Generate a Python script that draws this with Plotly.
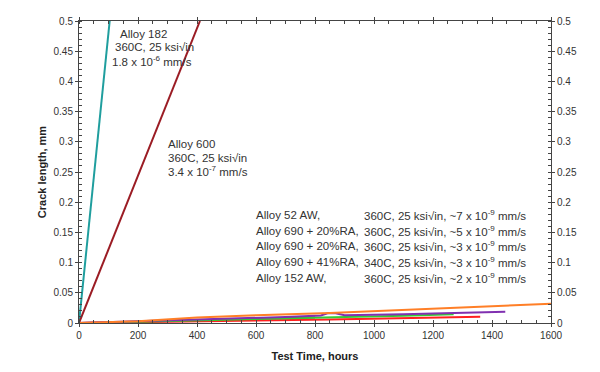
import plotly.graph_objects as go

# ---- data ----
hours_182 = [0, 104]
crack_182 = [0.0, 0.5]

hours_600 = [0, 410]
crack_600 = [0.0, 0.5]

hours_orange = [0, 100, 200, 400, 600, 850, 1100, 1350, 1600]
crack_orange = [0.0, 0.001, 0.003, 0.009, 0.013, 0.0165, 0.022, 0.027, 0.032]

hours_purple = [0, 300, 500, 700, 820, 845, 870, 900, 1100, 1300, 1445]
crack_purple = [0.0, 0.004, 0.007, 0.010, 0.0125, 0.0165, 0.016, 0.013, 0.0145, 0.0165, 0.0185]

hours_green = [100, 300, 500, 700, 900, 1100, 1270]
crack_green = [0.001, 0.003, 0.005, 0.007, 0.009, 0.012, 0.0145]

hours_red = [0, 200, 400, 600, 850, 1100, 1360]
crack_red = [0.0, 0.001, 0.003, 0.004, 0.0057, 0.008, 0.0105]

hours_crimson = [0, 200, 400, 600, 800]
crack_crimson = [0.0, 0.002, 0.005, 0.007, 0.009]

x_ticks = [0, 200, 400, 600, 800, 1000, 1200, 1400, 1600]
y_ticks = [0, 0.05, 0.1, 0.15, 0.2, 0.25, 0.3, 0.35, 0.4, 0.45, 0.5]

block_names = ["Alloy 52 AW,", "Alloy 690 + 20%RA,", "Alloy 690 + 20%RA,",
               "Alloy 690 + 41%RA,", "Alloy 152 AW,"]
block_conds = ["360C, 25 ksi\u221ain, ~7 x 10<sup>-9</sup> mm/s",
               "360C, 25 ksi\u221ain, ~5 x 10<sup>-9</sup> mm/s",
               "360C, 25 ksi\u221ain, ~3 x 10<sup>-9</sup> mm/s",
               "340C, 25 ksi\u221ain, ~3 x 10<sup>-9</sup> mm/s",
               "360C, 25 ksi\u221ain, ~2 x 10<sup>-9</sup> mm/s"]

FONT = "Liberation Sans, Arial, sans-serif"
AX = "#444444"
TXT = "#333333"

fig = go.Figure()
series = [
    (hours_182, crack_182, "#1f9e9e", "Alloy 182"),
    (hours_600, crack_600, "#9b1c24", "Alloy 600"),
    (hours_crimson, crack_crimson, "#a0144a", "crimson"),
    (hours_red, crack_red, "#ff2020", "red"),
    (hours_green, crack_green, "#33cc33", "green"),
    (hours_purple, crack_purple, "#8030b0", "purple"),
    (hours_orange, crack_orange, "#ff7f27", "orange"),
]
for hx, cy, col, nm in series:
    fig.add_trace(go.Scatter(x=hx, y=cy, mode="lines", name=nm,
                             line=dict(color=col, width=2), showlegend=False))

common_x = dict(range=[0, 1600], tickvals=x_ticks, showgrid=False, zeroline=False)
common_y = dict(range=[0, 0.5], tickvals=y_ticks, showgrid=False, zeroline=False)

# helper traces so overlay axes (inside halves of crossing ticks) are drawn
for ya in ["y2", "y3", "y4"]:
    fig.add_trace(go.Scatter(x=[0], y=[0], xaxis="x2", yaxis=ya, mode="markers",
                             marker=dict(opacity=0), showlegend=False, hoverinfo="skip"))

fig.update_layout(
    width=600, height=372,
    margin=dict(l=70.5, r=56.5, t=7, b=56.5),
    paper_bgcolor="white", plot_bgcolor="white",
    font=dict(family=FONT, size=10, color=TXT),
    xaxis=dict(**common_x, showline=True, linecolor=AX, linewidth=1, mirror="allticks",
               ticks="outside", ticklen=3, tickcolor=AX,
               minor=dict(dtick=50, ticks="inside", ticklen=3, tickcolor=AX),
               tickfont=dict(size=10, color=TXT),
               title=dict(text="<b>Test Time, hours</b>", font=dict(size=11, color="#222"),
                          standoff=12)),
    xaxis2=dict(**common_x, overlaying="x", anchor="y", showline=False, mirror="allticks",
                ticks="inside", ticklen=3, tickcolor=AX, showticklabels=False),
    yaxis=dict(**common_y, showline=True, linecolor=AX, linewidth=1,
               ticks="outside", ticklen=3, tickcolor=AX,
               minor=dict(dtick=0.01, ticks="inside", ticklen=3, tickcolor=AX),
               tickfont=dict(size=10, color=TXT),
               title=dict(text="<b>Crack length, mm</b>", font=dict(size=11, color="#222"),
                          standoff=4)),
    yaxis2=dict(**common_y, overlaying="y", side="left", anchor="x", showline=False,
                ticks="inside", ticklen=3, tickcolor=AX, showticklabels=False),
    yaxis3=dict(**common_y, overlaying="y", side="right", anchor="x", showline=True,
                linecolor=AX, linewidth=1,
                ticks="outside", ticklen=3, tickcolor=AX,
                minor=dict(dtick=0.01, ticks="inside", ticklen=3, tickcolor=AX),
                tickfont=dict(size=10, color=TXT)),
    yaxis4=dict(**common_y, overlaying="y", side="right", anchor="x",
                showline=False, ticks="inside", ticklen=3, tickcolor=AX,
                showticklabels=False),
)

def note(x, y, text, anchor="left"):
    fig.add_annotation(x=x, y=y, xref="x", yref="y", text=text, showarrow=False,
                       xanchor=anchor, yanchor="middle",
                       font=dict(family=FONT, size=11.5, color=TXT))

# Alloy 182 label
note(133, 0.479, "Alloy 182")
note(115, 0.457, "360C, 25 ksi\u221ain")
note(105, 0.434, "1.8 x 10<sup>-6</sup> mm/s")
# Alloy 600 label
note(295, 0.296, "Alloy 600")
note(295, 0.274, "360C, 25 ksi\u221ain")
note(295, 0.251, "3.4 x 10<sup>-7</sup> mm/s")

# block of five lines
block_y = [0.179, 0.153, 0.127, 0.101, 0.075]
for i, (nm, cd) in enumerate(zip(block_names, block_conds)):
    note(594, block_y[i], nm, "left")
    note(1521, block_y[i], cd, "right")

fig.write_html("out.html")
